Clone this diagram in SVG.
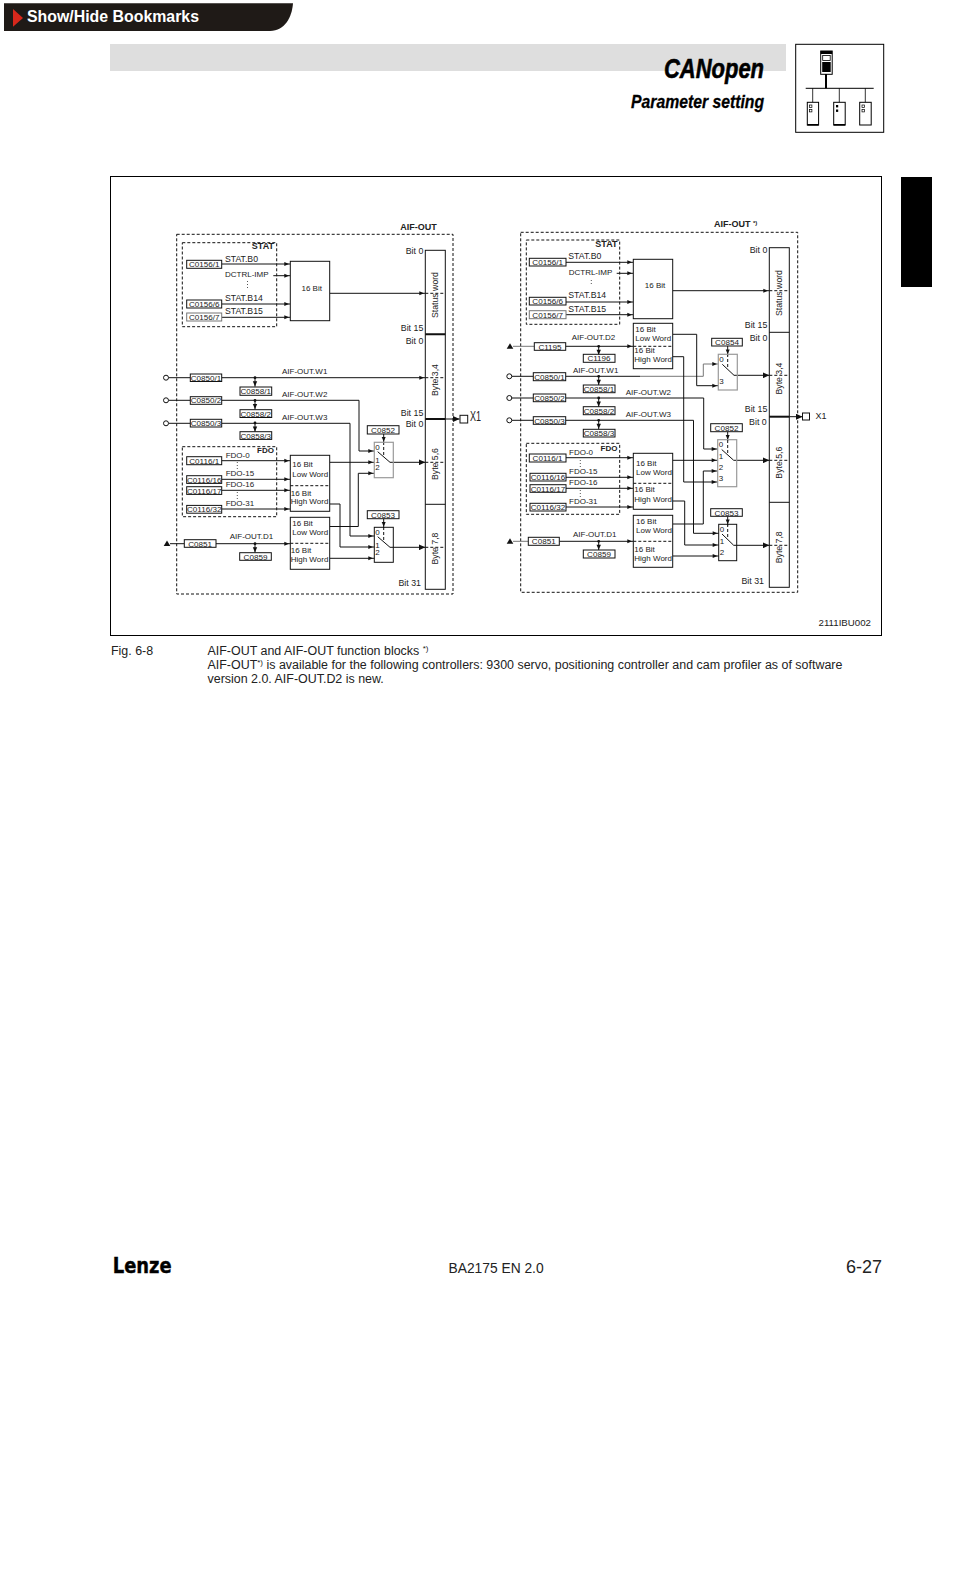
<svg xmlns="http://www.w3.org/2000/svg" xmlns:xlink="http://www.w3.org/1999/xlink" width="954" height="1572" viewBox="0 0 954 1572">
<style>
text{font-family:"Liberation Sans",Arial,sans-serif;fill:#222}
.l{font-size:8px}.s{font-size:8.7px}.c{font-size:8.1px;text-anchor:middle}.w{font-size:8px}.b{font-size:8.8px;text-anchor:end}
.t{font-size:8.7px;text-anchor:middle}.h{font-size:9px;font-weight:bold}.r{text-anchor:end}
.box{fill:#fff;stroke:#111;stroke-width:1}.gb{fill:#fff;stroke:#777;stroke-width:1}
.sw{fill:none;stroke:#111;stroke-width:1}.gs{fill:none;stroke:#999;stroke-width:1.2}
.dash{fill:none;stroke:#111;stroke-width:1;stroke-dasharray:3 2}
.dot{fill:none;stroke:#555;stroke-width:1;stroke-dasharray:1 2}
.ln{fill:none;stroke:#111;stroke-width:1}.gl{fill:none;stroke:#777;stroke-width:1}
.ar{marker-end:url(#a)}.big{marker-end:url(#A)}
.thick{stroke:#111;stroke-width:2;fill:none}
</style>
<defs>
<marker id="a" markerUnits="userSpaceOnUse" markerWidth="7" markerHeight="5" viewBox="0 0 7 5" refX="7" refY="2.5" orient="auto"><path d="M1 .5L5.7 2.5L1 4.5z" fill="#111"/></marker>
<marker id="A" markerUnits="userSpaceOnUse" markerWidth="7" markerHeight="6" viewBox="0 0 7 6" refX="6.5" refY="3" orient="auto"><path d="M0 0L6.5 3L0 6z" fill="#111"/></marker>
<g id="tap"><circle r="1.4" fill="#111"/><path d="M0 0V9" stroke="#111" fill="none"/><path d="M-2.2 3.5L0 8.5L2.2 3.5z" fill="#111"/></g>
<path id="tri" d="M-3.3 2.7L0 -2.7L3.3 2.7z" fill="#111"/>
</defs>
<rect width="954" height="1572" fill="#fff"/>

<g id="bookmark-bar">
<path d="M4 3.3H293C292 17 285 31 270 31H4z" fill="#1f1a17"/>
<path d="M13 9L23 18L13 26.7z" fill="#d8281c"/>
<text x="27" y="21.5" font-size="16" font-weight="bold" style="fill:#fff" textLength="172" lengthAdjust="spacingAndGlyphs">Show/Hide Bookmarks</text>
</g>
<g id="header">
<rect x="110" y="44" width="676" height="27" fill="#dedede"/>
<text x="664" y="78" font-size="28" font-weight="bold" font-style="italic" style="fill:#000;stroke:#000;stroke-width:.6" textLength="100" lengthAdjust="spacingAndGlyphs">CANopen</text>
<text x="631" y="108" font-size="18" font-weight="bold" font-style="italic" style="fill:#000;stroke:#000;stroke-width:.3" textLength="133" lengthAdjust="spacingAndGlyphs">Parameter setting</text>
</g>
<g id="bus-icon">
<rect x="795.7" y="44.3" width="88" height="88" fill="#fff" stroke="#000" stroke-width="1"/>
<rect x="820.7" y="51" width="11.5" height="23.3" fill="#fff" stroke="#000"/>
<rect x="820.7" y="51" width="11.5" height="3" fill="#000"/>
<rect x="822.7" y="55.5" width="7.5" height="5" fill="#fff" stroke="#000" stroke-width=".8"/>
<rect x="822.2" y="62" width="8.5" height="10" fill="#000"/>
<path d="M826 74V88.3" stroke="#000" stroke-width="2"/>
<path d="M805.7 88.3H873.7" stroke="#000" stroke-width="1"/>
<path d="M812.7 88.3V102.3M839.3 88.3V102.3M865.3 88.3V102.3" stroke="#000" stroke-width=".8"/>
<rect x="807.3" y="102.3" width="11.3" height="22.7" fill="#fff" stroke="#000"/>
<rect x="807.3" y="124" width="11.3" height="1.6" fill="#000"/>
<rect x="809.5" y="105" width="2.4" height="2.4" fill="#fff" stroke="#000" stroke-width=".7"/><rect x="809.5" y="109.5" width="2.4" height="2.4" fill="#fff" stroke="#000" stroke-width=".7"/>
<rect x="833.7" y="102.3" width="11.5" height="22.7" fill="#fff" stroke="#000"/>
<rect x="833.7" y="124" width="11.5" height="1.6" fill="#000"/>
<rect x="836" y="105" width="2.2" height="2.4" fill="#000"/><rect x="836" y="109.5" width="2.2" height="2.4" fill="#000"/>
<rect x="859.7" y="102.3" width="11.5" height="22.7" fill="#fff" stroke="#000"/>
<rect x="862" y="105" width="2.4" height="2.4" fill="#fff" stroke="#000" stroke-width=".7"/><rect x="862" y="109.5" width="2.4" height="2.4" fill="#fff" stroke="#000" stroke-width=".7"/>
</g>
<rect id="chapter-tab" x="901" y="177" width="31" height="110" fill="#000"/>
<rect id="frame" x="110.5" y="176.5" width="771" height="459" fill="#fff" stroke="#000" stroke-width="1"/>

<!-- LEFT -->
<g id="left-containers">
<rect x="176.7" y="234.3" width="276.3" height="359.7" class="dash"/>
<rect x="182.3" y="242.7" width="94.4" height="84" class="dash"/>
<rect x="182.3" y="446.7" width="94.4" height="70" class="dash"/>
<text x="436.7" y="229.7" class="h r">AIF-OUT</text>
<text x="274" y="249" class="h r">STAT</text>
<text x="274" y="453" class="h r" font-size="8" style="font-size:8px">FDO</text>
</g>
<g id="left-connectors">
<path class="ln ar" d="M221.7 264H290.3"/><path class="ln ar" d="M273.3 275.7H290.3"/><path class="ln ar" d="M221.7 304H290.3"/><path class="ln ar" d="M221.7 317.3H290.3"/>
<path class="ln ar" d="M329.7 293.3H425.3"/>
<path class="ln" d="M168.6 377.7H190.3"/><path class="ln ar" d="M221.7 377.7H425.3"/>
<path class="ln" d="M168.6 400.3H190.3"/><path class="ln ar" d="M221.7 400.3H359V451H374.3"/>
<path class="ln" d="M168.6 423.3H190.3"/><path class="ln ar" d="M221.7 423.3H350V536H374.3"/>
<path class="ln ar" d="M221.7 460.7H290.3"/><path class="ln ar" d="M221.7 479.3H290.3"/><path class="ln ar" d="M221.7 490.3H290.3"/><path class="ln ar" d="M221.7 509H290.3"/>
<path class="ln" d="M170 543.7H184.3"/><path class="ln ar" d="M216 543.7H290.3"/>
<path class="ln ar" d="M329.7 462.3H374.3"/>
<path class="ln ar" d="M329.7 526.5H358.3V473.3H374.3"/>
<path class="ln ar" d="M329.7 504H340V547H374.3"/>
<path class="ln ar" d="M329.7 558.3H374.3"/>
<path class="ln big" d="M390 462.3H425.3"/><path class="ln big" d="M390 547.3H425.3"/>
<path class="ln" d="M377.7 451.7L390 462.3M377.7 536.7L390 547.3"/>
<path class="dash" d="M383.7 442V457M383.7 527V542"/>
<path class="ln ar" d="M383.7 434V443"/><path class="ln ar" d="M383.7 518.7V528"/>
<path class="ln big" d="M445 419H459.5"/>
<use xlink:href="#tap" href="#tap" x="255" y="377.7"/><use xlink:href="#tap" href="#tap" x="255" y="400.5"/><use xlink:href="#tap" href="#tap" x="255" y="423"/><use xlink:href="#tap" href="#tap" x="255" y="543.7"/>
<path class="dot" d="M247.5 281V289M237.3 462V470M237.3 492V500"/>
</g>
<g id="left-labels">
<text x="225" y="261.7" class="s">STAT.B0</text><text x="225" y="277.3" class="l">DCTRL-IMP</text><text x="225" y="301" class="s">STAT.B14</text><text x="225" y="314.3" class="s">STAT.B15</text>
<text x="282" y="374.3" class="l">AIF-OUT.W1</text><text x="282" y="397.3" class="l">AIF-OUT.W2</text><text x="282" y="420" class="l">AIF-OUT.W3</text>
<text x="225.7" y="457.7" class="l">FDO-0</text><text x="225.7" y="476.3" class="l">FDO-15</text><text x="225.7" y="487.3" class="l">FDO-16</text><text x="225.7" y="506.3" class="l">FDO-31</text>
<text x="229.7" y="539" class="l">AIF-OUT.D1</text>
<text x="423.3" y="254.3" class="b">Bit 0</text><text x="423.3" y="331" class="b">Bit 15</text><text x="423.3" y="343.7" class="b">Bit 0</text><text x="423.3" y="415.7" class="b">Bit 15</text><text x="423.3" y="426.7" class="b">Bit 0</text><text x="421" y="585.7" class="b">Bit 31</text>
</g>
<g id="left-c0156-1"><rect class="box" x="186.7" y="260.3" width="35" height="8"/><text class="c" x="204.2" y="267.3">C0156/1</text></g>
<g id="left-c0156-6"><rect class="box" x="186.7" y="300" width="35" height="8"/><text class="c" x="204.2" y="307">C0156/6</text></g>
<g id="left-c0156-7"><rect class="gb" x="186.7" y="313" width="35" height="8"/><text class="c" x="204.2" y="320">C0156/7</text></g>
<g id="left-16bit"><rect class="box" x="290.3" y="261.3" width="39.4" height="59.4"/><text class="w" x="311.7" y="291.3" text-anchor="middle">16 Bit</text></g>
<g id="left-bar">
<rect class="box" x="425.3" y="250.3" width="20" height="339"/>
<path class="thick" d="M425.3 334.3H445.3M425.3 419H445.3"/><path class="ln" d="M425.3 504.3H445.3"/>
<path class="dash" d="M425.3 293.3H445.3M425.3 377.7H445.3M425.3 462.3H445.3M425.3 547.3H445.3"/>
<text class="t" transform="translate(438 295) rotate(-90)">Status word</text>
<text class="t" transform="translate(438 380) rotate(-90)">Byte 3,4</text>
<text class="t" transform="translate(438 464) rotate(-90)">Byte 5,6</text>
<text class="t" transform="translate(438 548.5) rotate(-90)">Byte 7,8</text>
</g>
<g id="left-in1"><circle cx="166" cy="377.7" r="2.5" fill="#fff" stroke="#111"/><rect class="box" x="190.3" y="374" width="31.4" height="7.5"/><text class="c" x="206" y="380.7">C0850/1</text></g>
<g id="left-in2"><circle cx="166" cy="400.3" r="2.5" fill="#fff" stroke="#111"/><rect class="box" x="190.3" y="396.7" width="31.4" height="7.6"/><text class="c" x="206" y="403.4">C0850/2</text></g>
<g id="left-in3"><circle cx="166" cy="423.3" r="2.5" fill="#fff" stroke="#111"/><rect class="box" x="190.3" y="419.3" width="31.4" height="7.7"/><text class="c" x="206" y="426.1">C0850/3</text></g>
<g id="left-c0858-1"><rect class="box" x="240" y="387" width="31.7" height="8.3"/><text class="c" x="255.8" y="394">C0858/1</text></g>
<g id="left-c0858-2"><rect class="box" x="240" y="409.7" width="31.7" height="7.8"/><text class="c" x="255.8" y="416.5">C0858/2</text></g>
<g id="left-c0858-3"><rect class="box" x="240" y="431.7" width="31.7" height="7.7"/><text class="c" x="255.8" y="438.5">C0858/3</text></g>
<g id="left-c0116-1"><rect class="box" x="186.7" y="456.7" width="35" height="8"/><text class="c" x="204.2" y="463.6">C0116/1</text></g>
<g id="left-c0116-16"><rect class="box" x="186.7" y="475.7" width="35" height="7.7"/><text class="c" x="204.2" y="482.5">C0116/16</text></g>
<g id="left-c0116-17"><rect class="box" x="186.7" y="486.7" width="35" height="7.7"/><text class="c" x="204.2" y="493.5">C0116/17</text></g>
<g id="left-c0116-32"><rect class="box" x="186.7" y="505.4" width="35" height="7.8"/><text class="c" x="204.2" y="512.2">C0116/32</text></g>
<g id="left-fdo-block"><rect class="box" x="290.3" y="455.3" width="39.4" height="56"/><path class="dash" d="M290.3 485.7H329.7"/>
<text class="w" x="292.3" y="467.3">16 Bit</text><text class="w" x="292.3" y="477">Low Word</text><text class="w" x="290.7" y="495.7">16 Bit</text><text class="w" x="290.7" y="504.3">High Word</text></g>
<g id="left-d1-block"><rect class="box" x="290.3" y="517.3" width="39.4" height="52"/><path class="dash" d="M290.3 543.3H329.7"/>
<text class="w" x="292.3" y="526.3">16 Bit</text><text class="w" x="292.3" y="535.3">Low Word</text><text class="w" x="290.7" y="552.7">16 Bit</text><text class="w" x="290.7" y="562.3">High Word</text></g>
<g id="left-c0851"><use xlink:href="#tri" href="#tri" x="167" y="543.3"/><rect class="box" x="184.3" y="539.7" width="31.7" height="7.6"/><text class="c" x="200.2" y="546.5">C0851</text></g>
<g id="left-c0859"><rect class="box" x="239.7" y="552.7" width="31.6" height="7.6"/><text class="c" x="255.5" y="559.5">C0859</text></g>
<g id="left-c0852"><rect class="box" x="367.3" y="425.7" width="31.7" height="8.3"/><text class="c" x="383" y="432.8">C0852</text></g>
<g id="left-c0853"><rect class="box" x="367.3" y="510.7" width="31.7" height="8"/><text class="c" x="383" y="517.6">C0853</text></g>
<g id="left-sw1"><rect class="gs" x="374.3" y="442.3" width="19" height="35.4"/><text class="l" x="375.3" y="449.5">0</text><text class="l" x="375.3" y="462.5">1</text><text class="l" x="375.3" y="470">2</text></g>
<g id="left-sw2"><rect class="sw" x="374.3" y="527.3" width="19" height="35"/><text class="l" x="375.3" y="534.5">0</text><text class="l" x="375.3" y="547.5">1</text><text class="l" x="375.3" y="555">2</text></g>
<g id="left-x1"><rect x="460" y="415.3" width="7.7" height="7.7" fill="#fff" stroke="#111"/><text x="470" y="421" font-size="14" textLength="11" lengthAdjust="spacingAndGlyphs">X1</text></g>

<!-- RIGHT -->
<g id="right-containers">
<rect x="520.7" y="232.3" width="277" height="360" class="dash"/>
<rect x="526.3" y="240" width="93.4" height="84.3" class="dash"/>
<rect x="526.3" y="443.3" width="93.4" height="71" class="dash"/>
<text x="714" y="226.7" class="h">AIF-OUT <tspan font-size="6" dy="-2">*)</tspan></text>
<text x="617.5" y="247" class="h r">STAT</text>
<text x="617.5" y="451" class="h r" style="font-size:8px">FDO</text>
</g>
<g id="right-connectors">
<path class="ln ar" d="M566 262.3H633.3"/><path class="ln ar" d="M616.7 273.3H633.3"/><path class="ln ar" d="M566 302H633.3"/><path class="ln ar" d="M566 314.7H633.3"/>
<path class="ln ar" d="M672.7 290.7H769.3"/>
<path class="gl" d="M513 346.3H534.3"/><path class="ln ar" d="M565.7 346.3H633.3"/>
<path class="ln" d="M511.9 376.3H533.3"/><path class="ln" d="M565.7 376.3H640"/><path class="gl ar" d="M640 376.3H703.3V364H718.3"/>
<path class="ln" d="M511.9 398H533.3"/><path class="ln ar" d="M565.7 398H703.7V449H717.7"/>
<path class="ln" d="M511.9 420.3H533.3"/><path class="ln ar" d="M565.7 420.3H693.5V533.3H718.7"/>
<path class="ln ar" d="M566 457.7H633.3"/><path class="ln ar" d="M566 477.3H633.3"/><path class="ln ar" d="M566 488.3H633.3"/><path class="ln ar" d="M566 507H633.3"/>
<path class="gl" d="M513 541.3H528.3"/><path class="ln ar" d="M559.3 541.3H633.3"/>
<path class="ln ar" d="M672.7 334.3H696.7V385.7H718.3"/>
<path class="ln ar" d="M672.7 356.7H683.7V482H717.7"/>
<path class="ln ar" d="M672.7 460.3H717.7"/>
<path class="ln ar" d="M672.7 501H684.7V545H718.7"/>
<path class="ln ar" d="M672.7 524H703.3V471H717.7"/>
<path class="ln ar" d="M672.7 556H718.7"/>
<path class="ln big" d="M734 375.3H769.3"/><path class="ln big" d="M733.7 460.3H769.3"/><path class="ln big" d="M733.7 545.3H769.3"/>
<path class="ln" d="M722.3 364.3L734 375.3M721.7 449.5L733.7 460.3M722 534L733.7 545.3"/>
<path class="dash" d="M727.7 354V368M727.7 440V454M727.7 524V539"/>
<path class="ln ar" d="M727.7 346V355.5"/><path class="ln ar" d="M727.7 431.7V441"/><path class="ln ar" d="M727.7 516.3V525.5"/>
<path class="ln big" d="M789 416.7H802.5"/>
<use xlink:href="#tap" href="#tap" x="598.7" y="346.3"/><use xlink:href="#tap" href="#tap" x="598.7" y="376.3"/><use xlink:href="#tap" href="#tap" x="598.7" y="398"/><use xlink:href="#tap" href="#tap" x="598.7" y="420.3"/><use xlink:href="#tap" href="#tap" x="598.7" y="541.3"/>
<path class="dot" d="M591.3 280V286M580.3 460V468M580.3 490V498"/>
</g>
<g id="right-labels">
<text x="568.3" y="259.3" class="s">STAT.B0</text><text x="568.7" y="275" class="l">DCTRL-IMP</text><text x="568.3" y="298.3" class="s">STAT.B14</text><text x="568.3" y="312.3" class="s">STAT.B15</text>
<text x="571.7" y="340.3" class="l">AIF-OUT.D2</text><text x="573" y="372.7" class="l">AIF-OUT.W1</text><text x="625.7" y="395" class="l">AIF-OUT.W2</text><text x="625.7" y="416.7" class="l">AIF-OUT.W3</text>
<text x="569" y="455" class="l">FDO-0</text><text x="569" y="474" class="l">FDO-15</text><text x="569" y="485" class="l">FDO-16</text><text x="569" y="504" class="l">FDO-31</text>
<text x="573" y="536.7" class="l">AIF-OUT.D1</text>
<text x="767.3" y="253.3" class="b">Bit 0</text><text x="767.3" y="328.3" class="b">Bit 15</text><text x="767.3" y="341" class="b">Bit 0</text><text x="767.3" y="412.3" class="b">Bit 15</text><text x="766.7" y="425" class="b">Bit 0</text><text x="764" y="584.3" class="b">Bit 31</text>
</g>
<g id="right-c0156-1"><rect class="box" x="529.3" y="258.3" width="36.7" height="7.7"/><text class="c" x="547.6" y="265.1">C0156/1</text></g>
<g id="right-c0156-6"><rect class="box" x="529.3" y="297.3" width="36.7" height="7.7"/><text class="c" x="547.6" y="304.1">C0156/6</text></g>
<g id="right-c0156-7"><rect class="gb" x="529.3" y="310.7" width="36.7" height="8"/><text class="c" x="547.6" y="317.7">C0156/7</text></g>
<g id="right-16bit"><rect class="box" x="633.3" y="259.3" width="39.4" height="59.4"/><text class="w" x="655" y="288.3" text-anchor="middle">16 Bit</text></g>
<g id="right-bar">
<rect class="box" x="769.3" y="247.7" width="20" height="339.6"/>
<path class="ln" d="M769.3 332.3H789.3M769.3 502.3H789.3"/><path class="thick" d="M769.3 416.7H789.3"/>
<path class="dash" d="M769.3 290.7H789.3M769.3 375.3H789.3M769.3 460.3H789.3M769.3 545.3H789.3"/>
<text class="t" transform="translate(782 293) rotate(-90)">Status word</text>
<text class="t" transform="translate(782 378.5) rotate(-90)">Byte 3,4</text>
<text class="t" transform="translate(782 462.7) rotate(-90)">Byte 5,6</text>
<text class="t" transform="translate(782 547.3) rotate(-90)">Byte 7,8</text>
</g>
<g id="right-d2-block"><rect class="box" x="633.3" y="323.3" width="39.4" height="45.4"/><path class="dash" d="M633.3 346.3H672.7"/>
<text class="w" x="635.3" y="331.7">16 Bit</text><text class="w" x="635.3" y="340.7">Low Word</text><text class="w" x="634.3" y="353.3">16 Bit</text><text class="w" x="634.3" y="362.3">High Word</text></g>
<g id="right-c1195"><use xlink:href="#tri" href="#tri" x="510" y="346"/><rect class="box" x="534.3" y="342.7" width="31.4" height="7.6"/><text class="c" x="550" y="349.5">C1195</text></g>
<g id="right-c1196"><rect class="box" x="583.3" y="354.3" width="31.7" height="8"/><text class="c" x="599" y="361.3">C1196</text></g>
<g id="right-in1"><circle cx="509.3" cy="376.3" r="2.5" fill="#fff" stroke="#111"/><rect class="box" x="533.3" y="372.7" width="32.4" height="8"/><text class="c" x="549.5" y="379.7">C0850/1</text></g>
<g id="right-in2"><circle cx="509.3" cy="398" r="2.5" fill="#fff" stroke="#111"/><rect class="box" x="533.3" y="394" width="32.4" height="7.7"/><text class="c" x="549.5" y="400.8">C0850/2</text></g>
<g id="right-in3"><circle cx="509.3" cy="420.3" r="2.5" fill="#fff" stroke="#111"/><rect class="box" x="533.3" y="416.7" width="32.4" height="7.6"/><text class="c" x="549.5" y="423.5">C0850/3</text></g>
<g id="right-c0858-1"><rect class="box" x="583.3" y="385" width="31.7" height="7.7"/><text class="c" x="599" y="391.8">C0858/1</text></g>
<g id="right-c0858-2"><rect class="box" x="583.3" y="406.7" width="31.7" height="8"/><text class="c" x="599" y="413.7">C0858/2</text></g>
<g id="right-c0858-3"><rect class="box" x="583.3" y="429.3" width="31.7" height="7.7"/><text class="c" x="599" y="436.1">C0858/3</text></g>
<g id="right-c0116-1"><rect class="box" x="529.3" y="454" width="36.7" height="8"/><text class="c" x="547.6" y="461">C0116/1</text></g>
<g id="right-c0116-16"><rect class="box" x="530" y="473.3" width="36" height="7.7"/><text class="c" x="548" y="480.1">C0116/16</text></g>
<g id="right-c0116-17"><rect class="box" x="530" y="484.7" width="36" height="7.6"/><text class="c" x="548" y="491.5">C0116/17</text></g>
<g id="right-c0116-32"><rect class="box" x="530" y="503.3" width="36" height="7.7"/><text class="c" x="548" y="510.1">C0116/32</text></g>
<g id="right-fdo-block"><rect class="box" x="633.3" y="453.3" width="39.4" height="56"/><path class="dash" d="M633.3 483.3H672.7"/>
<text class="w" x="636" y="466">16 Bit</text><text class="w" x="636" y="475">Low Word</text><text class="w" x="634.3" y="492.3">16 Bit</text><text class="w" x="634.3" y="501.7">High Word</text></g>
<g id="right-d1-block"><rect class="box" x="633.3" y="515.3" width="39.4" height="52"/><path class="dash" d="M633.3 541.3H672.7"/>
<text class="w" x="636" y="524">16 Bit</text><text class="w" x="636" y="533.3">Low Word</text><text class="w" x="634.3" y="551.7">16 Bit</text><text class="w" x="634.3" y="561">High Word</text></g>
<g id="right-c0851"><use xlink:href="#tri" href="#tri" x="510" y="541"/><rect class="box" x="528.3" y="537.3" width="31" height="8"/><text class="c" x="543.8" y="544.3">C0851</text></g>
<g id="right-c0859"><rect class="box" x="583.3" y="550" width="31.7" height="8"/><text class="c" x="599" y="557">C0859</text></g>
<g id="right-c0854"><rect class="box" x="711.7" y="338.3" width="30.6" height="7.7"/><text class="c" x="727" y="345.1">C0854</text></g>
<g id="right-c0852"><rect class="box" x="710.7" y="423.7" width="31.6" height="8"/><text class="c" x="726.5" y="430.7">C0852</text></g>
<g id="right-c0853"><rect class="box" x="710.7" y="508.7" width="31.6" height="7.6"/><text class="c" x="726.5" y="515.5">C0853</text></g>
<g id="right-sw0"><rect class="gs" x="718.3" y="354.3" width="19" height="35.7"/><text class="l" x="719.3" y="361.5">0</text><text class="l" x="719.3" y="383.5">3</text></g>
<g id="right-sw1"><rect class="gs" x="717.7" y="439.7" width="19" height="47"/><text class="l" x="718.7" y="447">0</text><text class="l" x="718.7" y="458.5">1</text><text class="l" x="718.7" y="470">2</text><text class="l" x="718.7" y="481">3</text></g>
<g id="right-sw2"><rect class="sw" x="718.7" y="524.3" width="18" height="36.4"/><text class="l" x="719.7" y="531.5">0</text><text class="l" x="719.7" y="544">1</text><text class="l" x="719.7" y="555">2</text></g>
<g id="right-x1"><rect x="802.5" y="413" width="7" height="7" fill="#fff" stroke="#111"/><text x="815.5" y="419" font-size="9">X1</text></g>

<text x="871" y="625.5" font-size="9.7" class="r">2111IBU002</text>
<g id="caption" font-size="12.45">
<text x="111" y="654.5">Fig. 6-8</text>
<text x="207.5" y="654.5">AIF-OUT and AIF-OUT function blocks <tspan font-size="8" dy="-4">*)</tspan></text>
<text x="207.5" y="668.5">AIF-OUT<tspan font-size="8" dy="-4">*)</tspan><tspan dy="4"> is available for the following controllers: 9300 servo, positioning controller and cam profiler as of software</tspan></text>
<text x="207.5" y="682.5">version 2.0.  AIF-OUT.D2 is new.</text>
</g>
<g id="footer">
<text x="112.7" y="1273" style="font-family:'DejaVu Sans',sans-serif;fill:#000;stroke:#000;stroke-width:.4" font-size="22" font-weight="bold" textLength="59" lengthAdjust="spacingAndGlyphs">Lenze</text>
<text x="448.5" y="1272.5" font-size="13.8">BA2175 EN 2.0</text>
<text x="882" y="1273" font-size="18" class="r">6-27</text>
</g>
</svg>
